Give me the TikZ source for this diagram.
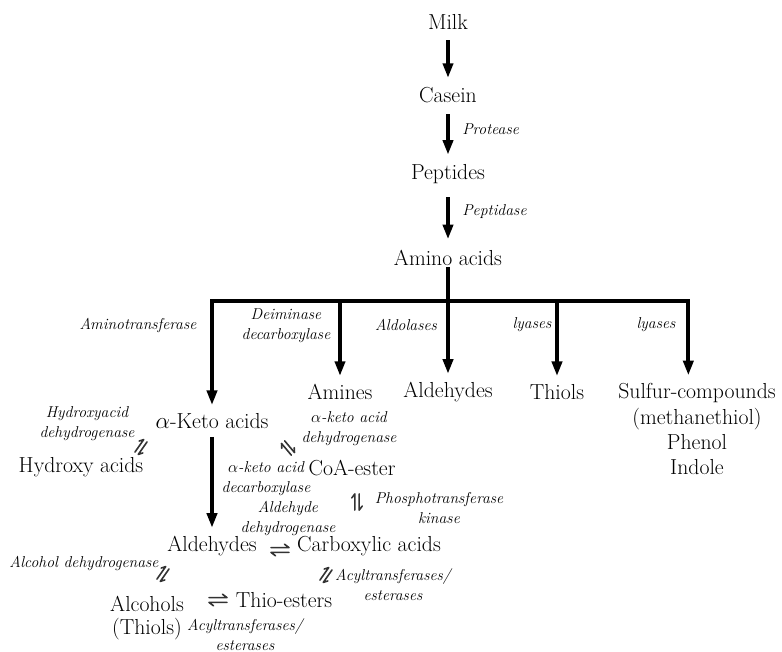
\documentclass[tikz,border=0pt]{standalone}
\usepackage{amsmath}
\usepackage{tikz}
\usetikzlibrary{arrows.meta, positioning}

\tikzset{
  compound/.style={font=\fontsize{16.3}{19}\selectfont, align=center, inner sep=1pt},
  enzyme/.style={font=\fontsize{11.8}{15}\selectfont\itshape, align=center, inner sep=0pt},
  flow/.style={line width=3pt, -{Triangle[length=11pt, width=7.5pt]}, shorten >=5pt},
  trunk/.style={line width=3pt},
  equil/.pic={
    \draw[line width=1.2pt, black!80, line cap=round, line join=round]
      (-9,-2.4) -- (9,-2.4) -- (4.5,-5.8)
      (9,2.4) -- (-9,2.4) -- (-4.5,5.8);
  }
}

\begin{document}
\begin{tikzpicture}[x=0.75pt, y=-0.75pt, on grid]
   \useasboundingbox (0,0) rectangle (782,652);
   % main chain
   \node[compound] (milk) at (448,22) {Milk};
   \node[compound] (casein) [below=55pt of milk] {Casein};
   \node[compound] (peptides) [below=59pt of casein] {Peptides};
   \node[compound] (amino) [below=63pt of peptides] {Amino acids};
   \node[enzyme, anchor=west] (protease) at (462,129) {Protease};
   \node[enzyme, anchor=west] (peptidase) at (462,212) {Peptidase};
   \draw[flow, shorten <=7pt, shorten >=6pt] (milk) -- (casein);
   \draw[flow, shorten <=7pt, shorten >=6pt] (casein) -- (peptides);
   \draw[flow, shorten <=9pt, shorten >=7pt] (peptides) -- (amino);

   % branches
   \coordinate (hub) at (448,301);
   \node[compound] (keto) at (212,421) {$\alpha$-Keto acids};
   \node[compound] (amines) at (340,392) {Amines};
   \node[compound] (ald1) at (448,392) {Aldehydes};
   \node[compound] (thiols) at (557,392) {Thiols};
   \node[compound, anchor=north] (sulfur) at (697,382)
      {Sulfur-compounds\\(methanethiol)\\Phenol\\Indole};
   \draw[trunk] (amino.south) -- (hub);
   \draw[flow] (hub) -| (keto);
   \draw[flow] (hub) -| (amines);
   \draw[flow] (hub) -- (ald1);
   \draw[flow] (hub) -| (thiols);
   \draw[flow] (hub) -| ([xshift=-6.5pt]sulfur.north);
   \node[enzyme] (amtr) at (138,325) {Aminotransferase};
   \node[enzyme] (deim) at (286,326) {Deiminase\\decarboxylase};
   \node[enzyme] (aldol) at (406,325) {Aldolases};
   \node[enzyme] (lyas1) at (532,325) {lyases};
   \node[enzyme] (lyas2) at (656,325) {lyases};

   % keto acid conversions
   \node[compound] (hydroxy) at (81,467) {Hydroxy acids};
   \node[compound] (coa) at (352,468) {CoA-ester};
   \node[compound] (ald2) at (212,546) {Aldehydes};
   \node[compound] (carbox) at (369,546) {Carboxylic acids};
   \node[compound, font=\fontsize{16.3}{17}\selectfont] (alcohols) at (147,618) {Alcohols\\(Thiols)};
   \node[compound] (thioest) at (284,600) {Thio-esters};
   \draw[flow, shorten <=5pt] (keto) -- (ald2);

   \node[enzyme] (hydh) at (87,424) {Hydroxyacid\\dehydrogenase};
   \node[enzyme] (kadh) at (349,429) {$\alpha$-keto acid\\dehydrogenase};
   \node[enzyme] (kadc) at (266,479) {$\alpha$-keto acid\\decarboxylase};
   \node[enzyme] (aldh) at (288,518) {Aldehyde\\dehydrogenase};
   \node[enzyme] (phos) at (439,508) {Phosphotransferase\\kinase};
   \node[enzyme] (alcdh) at (84,563) {Alcohol dehydrogenase};
   \node[enzyme] (acyl1) at (393,585) {Acyltransferases/\\esterases};
   \node[enzyme] (acyl2) at (245,635) {Acyltransferases/\\esterases};

   % equilibria
   \pic[rotate=55, scale=0.85] (eqhk) at (141,447) {equil};
   \pic[rotate=-50, scale=0.85] (eqkc) at (288,448) {equil};
   \pic[rotate=90, scale=0.9] (eqcc) at (357,502) {equil};
   \pic (eqac) at (280,550) {equil};
   \pic[rotate=55, scale=0.85] (eqaa) at (163,574) {equil};
   \pic (eqat) at (218,600) {equil};
   \pic[rotate=55, scale=0.85] (eqct) at (326,575) {equil};
\end{tikzpicture}
\end{document}
